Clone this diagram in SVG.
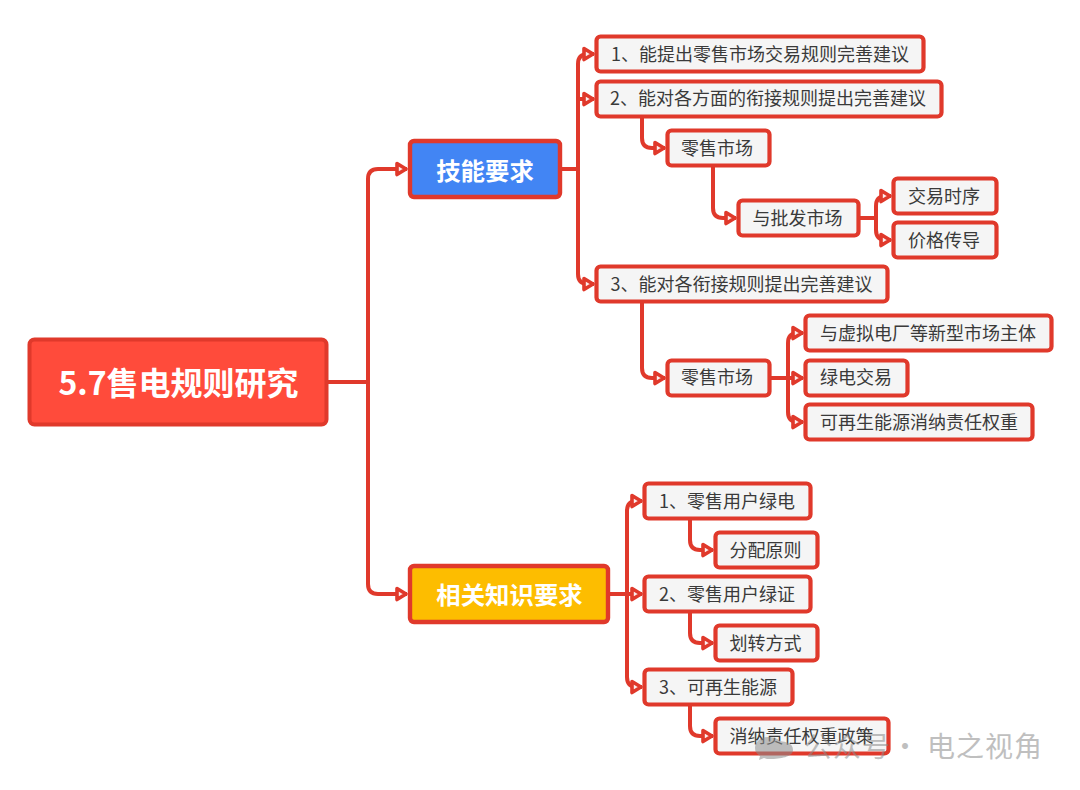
<svg xmlns="http://www.w3.org/2000/svg" width="1080" height="790" viewBox="0 0 1080 790">
<style>
text{font-family:"Noto Sans CJK SC","Noto Sans",sans-serif;dominant-baseline:central}
.box{fill:#f5f5f5;stroke:#e0392b;stroke-width:4.2}
.t{font-size:18px;fill:#3a3a3a}
.h{font-size:24.4px;font-weight:700;fill:#fff;text-anchor:middle}
.c{fill:none;stroke:#e0392b;stroke-width:4;stroke-linejoin:round}
.a{marker-end:url(#arr)}
</style>
<defs>
<marker id="arr" markerUnits="userSpaceOnUse" markerWidth="20" markerHeight="20" refX="11" refY="6" viewBox="-3 -3 20 20" orient="auto" overflow="visible">
<path d="M1 0.5L10 6L1 11.5Z" fill="#fbeeee" stroke="#e0392b" stroke-width="3.6" stroke-linejoin="round"/>
</marker>
</defs>
<rect width="1080" height="790" fill="#fff"/>
<g id="connectors">
<path class="c" d="M328 382H368"/>
<path class="c a" d="M368 382V179Q368 169 378 169H407"/>
<path class="c a" d="M368 382V584Q368 594 378 594H407"/>
<path class="c" d="M562 169H578"/>
<path class="c a" d="M578 169V64Q578 54 588 54H594"/>
<path class="c a" d="M578 169V99H594"/>
<path class="c a" d="M578 169V274Q578 284 588 284H594"/>
<path class="c a" d="M642 118V138Q642 148 652 148H665"/>
<path class="c a" d="M713 167V208Q713 218 723 218H736"/>
<path class="c" d="M860 218H876"/>
<path class="c a" d="M876 218V206Q876 196 886 196H891"/>
<path class="c a" d="M876 218V230Q876 240 886 240H891"/>
<path class="c a" d="M642 303V368Q642 378 652 378H665"/>
<path class="c" d="M771 378H788"/>
<path class="c a" d="M788 378V343Q788 333 798 333H803"/>
<path class="c a" d="M788 378H803"/>
<path class="c a" d="M788 378V412Q788 422 798 422H803"/>
<path class="c" d="M610 594H627"/>
<path class="c a" d="M627 594V511Q627 501 637 501H642"/>
<path class="c a" d="M627 594H642"/>
<path class="c a" d="M627 594V677Q627 687 637 687H642"/>
<path class="c a" d="M690 520V540Q690 550 700 550H713"/>
<path class="c a" d="M690 613V633Q690 643 700 643H713"/>
<path class="c a" d="M690 706V726Q690 736 700 736H713"/>
</g>
<g id="root"><rect x="29.5" y="339.5" width="297" height="85" rx="5" fill="#ff4b3b" stroke="#e0392b" stroke-width="4"/><text x="178.500" y="380.500" font-size="32" font-weight="700" fill="#fff" text-anchor="middle">5.7售电规则研究</text></g>
<g id="skill"><rect x="410" y="141" width="150" height="56" rx="4" fill="#4285f4" stroke="#e0392b" stroke-width="4.4"/><text class="h" x="485" y="169">技能要求</text></g>
<g id="know"><rect x="410" y="566" width="198" height="56" rx="4" fill="#fdbd00" stroke="#e0392b" stroke-width="4.4"/><text class="h" x="509.500" y="593">相关知识要求</text></g>
<g id="n1"><rect class="box" x="596.500" y="36.500" width="327" height="35" rx="4"/><text class="t" x="611" y="53">1、能提出零售市场交易规则完善建议</text></g>
<g id="n2"><rect class="box" x="596.500" y="81.500" width="345" height="35" rx="4"/><text class="t" x="610" y="97">2、能对各方面的衔接规则提出完善建议</text></g>
<g id="n21"><rect class="box" x="667.500" y="130.500" width="102" height="35" rx="4"/><text class="t" x="681" y="147">零售市场</text></g>
<g id="n211"><rect class="box" x="738.500" y="200.500" width="120" height="35" rx="4"/><text class="t" x="752.500" y="217">与批发市场</text></g>
<g id="n2111"><rect class="box" x="893.500" y="178.500" width="103" height="35" rx="4"/><text class="t" x="908" y="195">交易时序</text></g>
<g id="n2112"><rect class="box" x="893.500" y="222.500" width="103" height="35" rx="4"/><text class="t" x="908" y="239">价格传导</text></g>
<g id="n3"><rect class="box" x="596.500" y="266.500" width="291" height="35" rx="4"/><text class="t" x="610.500" y="283">3、能对各衔接规则提出完善建议</text></g>
<g id="n31"><rect class="box" x="667.500" y="360.500" width="102" height="35" rx="4"/><text class="t" x="681" y="376">零售市场</text></g>
<g id="n311"><rect class="box" x="805.500" y="315.500" width="246" height="35" rx="4"/><text class="t" x="820" y="332">与虚拟电厂等新型市场主体</text></g>
<g id="n312"><rect class="box" x="805.500" y="360.500" width="102" height="35" rx="4"/><text class="t" x="820" y="376">绿电交易</text></g>
<g id="n313"><rect class="box" x="805.500" y="404.500" width="227" height="35" rx="4"/><text class="t" x="820" y="421">可再生能源消纳责任权重</text></g>
<g id="k1"><rect class="box" x="644.500" y="483.500" width="166" height="35" rx="4"/><text class="t" x="659" y="500">1、零售用户绿电</text></g>
<g id="k11"><rect class="box" x="715.500" y="532.500" width="102" height="35" rx="4"/><text class="t" x="729.500" y="549">分配原则</text></g>
<g id="k2"><rect class="box" x="644.500" y="576.500" width="166" height="35" rx="4"/><text class="t" x="659" y="593">2、零售用户绿证</text></g>
<g id="k21"><rect class="box" x="715.500" y="625.500" width="102" height="35" rx="4"/><text class="t" x="729.500" y="642">划转方式</text></g>
<g id="k3"><rect class="box" x="644.500" y="669.500" width="148" height="35" rx="4"/><text class="t" x="659" y="686">3、可再生能源</text></g>
<g id="k31"><rect class="box" x="715.500" y="718.500" width="173" height="35" rx="4"/><text class="t" x="729.500" y="735">消纳责任权重政策</text></g>
<g id="watermark" fill="#8c8c8c" opacity="0.55">
<path d="M768 737C760 737 755 742 755 748C755 752 757 754 760 756L759 760L764 758C766 759 768 759 770 759C780 759 793 757 793 750C793 743 786 742 780 741C777 738 773 737 768 737Z"/>
<text x="804" y="745" font-size="28" letter-spacing="1">公众号 <tspan x="891">·</tspan> <tspan x="927">电之视角</tspan></text>
</g>
</svg>
